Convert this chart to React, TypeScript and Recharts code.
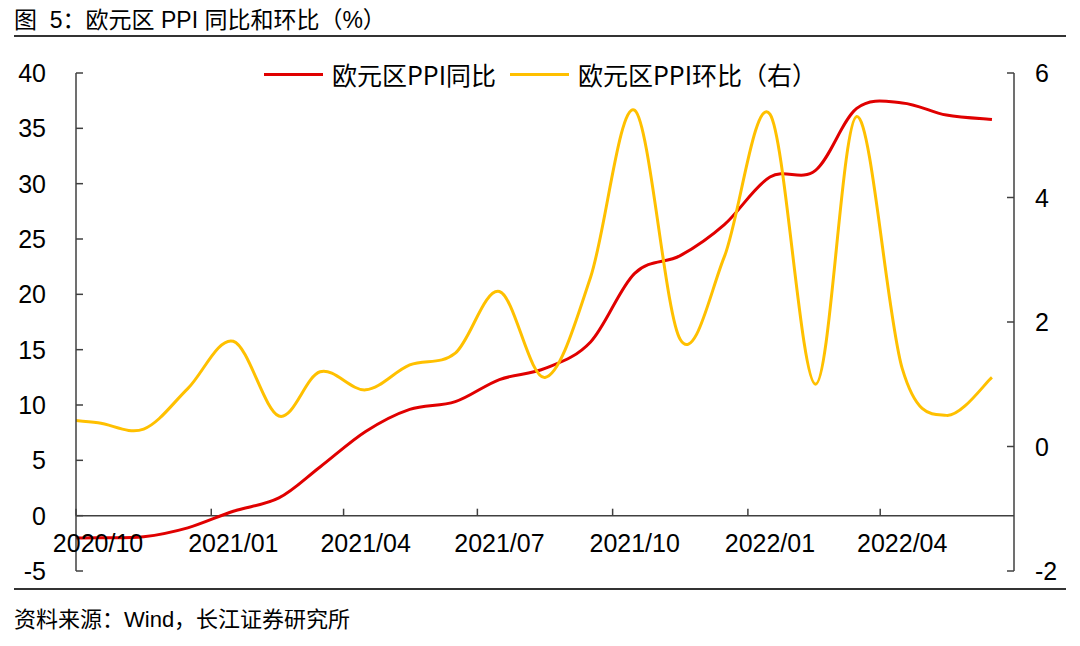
import React from 'react';
import { ComposedChart, Line, XAxis, YAxis, ReferenceLine, Legend } from 'recharts';

// ---- data ----
const MONTHS = [
  '2020/09', '2020/10', '2020/11', '2020/12',
  '2021/01', '2021/02', '2021/03', '2021/04', '2021/05', '2021/06',
  '2021/07', '2021/08', '2021/09', '2021/10', '2021/11', '2021/12',
  '2022/01', '2022/02', '2022/03', '2022/04', '2022/05', '2022/06',
];
const YOY = [
  -2.0, -2.0, -1.9, -1.1,
  0.4, 1.6, 4.4, 7.6, 9.6, 10.3,
  12.3, 13.3, 15.7, 21.9, 23.5, 26.3,
  30.6, 31.2, 36.8, 37.3, 36.2, 35.8,
];
const MOM = [
  0.45, 0.38, 0.28, 0.93,
  1.69, 0.49, 1.2, 0.91, 1.31, 1.5,
  2.49, 1.11, 2.72, 5.4, 1.72, 3.05,
  5.34, 1.0, 5.3, 1.25, 0.5, 1.11,
];
const X_TICK_LABELS = ['2020/10', '2021/01', '2021/04', '2021/07', '2021/10', '2022/01', '2022/04'];
const X_START = '2020/10';
const X_END = '2022/07';
const LEFT_TICKS = [-5, 0, 5, 10, 15, 20, 25, 30, 35, 40];
const RIGHT_TICKS = [-2, 0, 2, 4, 6];
const NAME_YOY = '欧元区PPI同比';
const NAME_MOM = '欧元区PPI环比（右）';
const TITLE = '图  5：欧元区 PPI 同比和环比（%）';
const SOURCE = '资料来源：Wind，长江证券研究所';

// ---- helpers ----
const toTime = (label: string, day: number) => {
  const [y, m] = label.split('/').map(Number);
  return Date.UTC(y, m - 1, day);
};
const data = MONTHS.map((m, i) => ({ t: toTime(m, 16), yoy: YOY[i], mom: MOM[i] }));
const X_TICKS = X_TICK_LABELS.map((l) => toTime(l, 1));
const X_LABEL_POS = X_TICK_LABELS.map((l) => toTime(l, 16));
const X_DOMAIN = [toTime(X_START, 1), toTime(X_END, 1)];

const AXIS = '#404040';
const RED = '#E00000';
const GOLD = '#FFC000';
const LATIN = '"Liberation Sans", Arial, "Noto Sans CJK SC", sans-serif';
const CJK = '"Noto Sans CJK SC", "Liberation Sans", sans-serif';

// Excel-like smoothed line (Catmull-Rom as cubic Bezier)
const excelSmooth: any = (context: any) => {
  let pts: number[][] = [];
  return {
    areaStart() {},
    areaEnd() {},
    lineStart() {
      pts = [];
    },
    lineEnd() {
      const n = pts.length;
      if (!n) return;
      context.moveTo(pts[0][0], pts[0][1]);
      for (let i = 0; i < n - 1; i++) {
        const p0 = pts[Math.max(i - 1, 0)];
        const p1 = pts[i];
        const p2 = pts[i + 1];
        const p3 = pts[Math.min(i + 2, n - 1)];
        context.bezierCurveTo(
          p1[0] + (p2[0] - p0[0]) / 6,
          p1[1] + (p2[1] - p0[1]) / 6,
          p2[0] - (p3[0] - p1[0]) / 6,
          p2[1] - (p3[1] - p1[1]) / 6,
          p2[0],
          p2[1]
        );
      }
    },
    point(x: number, y: number) {
      pts.push([+x, +y]);
    },
  };
};

const LeftTick = (props: any) => {
  const { x, y, payload } = props;
  return (
    <g>
      <line x1={x} x2={x + 7} y1={y} y2={y} stroke={AXIS} strokeWidth={1.5} />
      <text x={x - 30} y={y} dy="0.36em" textAnchor="end" fontSize={25} fill="#000" fontFamily={LATIN}>
        {payload.value}
      </text>
    </g>
  );
};

const RightTick = (props: any) => {
  const { x, y, payload } = props;
  return (
    <g>
      <line x1={x - 7} x2={x} y1={y} y2={y} stroke={AXIS} strokeWidth={1.5} />
      <text x={x + 21} y={y} dy="0.36em" textAnchor="start" fontSize={25} fill="#000" fontFamily={LATIN}>
        {payload.value}
      </text>
    </g>
  );
};

const renderLegend = (props: any) => {
  const { payload } = props;
  return (
    <div style={{ display: 'flex', alignItems: 'center', fontFamily: CJK, fontSize: 25, color: '#000', lineHeight: '30px', whiteSpace: 'nowrap' }}>
      {(payload || []).map((entry: any, i: number) => (
        <div key={i} style={{ display: 'flex', alignItems: 'center', marginRight: 14 }}>
          <div style={{ width: 59, height: 3, background: entry.color, marginRight: 9 }} />
          <span>{entry.value}</span>
        </div>
      ))}
    </div>
  );
};

export default function App() {
  return (
    <div style={{ position: 'absolute', left: 0, top: 0, width: 1080, height: 646, background: '#fff', overflow: 'hidden' }}>
      <div style={{ position: 'absolute', left: 14, top: 6, fontFamily: LATIN, fontSize: 23, lineHeight: '28px', color: '#000', whiteSpace: 'pre' }}>
        {TITLE}
      </div>
      <div style={{ position: 'absolute', left: 14, top: 35, width: 1052, height: 2, background: '#333' }} />
      <div style={{ position: 'absolute', left: 0, top: 0 }}>
        <ComposedChart width={1080} height={646} data={data} margin={{ top: 73, right: 0, bottom: 75, left: 0 }}>
          <XAxis dataKey="t" type="number" domain={X_DOMAIN} allowDataOverflow hide />
          <YAxis
            yAxisId="left"
            domain={[-5, 40]}
            ticks={LEFT_TICKS}
            interval={0}
            width={76}
            tickSize={0}
            tickMargin={0}
            tickLine={false}
            axisLine={{ stroke: AXIS, strokeWidth: 1.5 }}
            tick={<LeftTick />}
            allowDataOverflow
          />
          <YAxis
            yAxisId="right"
            orientation="right"
            domain={[-2, 6]}
            ticks={RIGHT_TICKS}
            interval={0}
            width={66}
            tickSize={0}
            tickMargin={0}
            tickLine={false}
            axisLine={{ stroke: AXIS, strokeWidth: 1.5 }}
            tick={<RightTick />}
            allowDataOverflow
          />
          <ReferenceLine yAxisId="left" y={0} stroke={AXIS} strokeWidth={1.5} />
          {X_TICKS.map((t) => (
            <ReferenceLine
              key={'tk' + t}
              yAxisId="left"
              segment={[{ x: t, y: 0 }, { x: t, y: 0.63 }]}
              stroke={AXIS}
              strokeWidth={1.5}
            />
          ))}
          {X_LABEL_POS.map((t, i) => (
            <ReferenceLine
              key={'lb' + t}
              yAxisId="left"
              segment={[{ x: t, y: 0 }, { x: t, y: 0.63 }]}
              stroke="none"
              label={{ value: X_TICK_LABELS[i], position: 'bottom', offset: 19, fontSize: 25, fill: '#000', fontFamily: LATIN }}
            />
          ))}
          <Line
            yAxisId="left"
            dataKey="yoy"
            name={NAME_YOY}
            stroke={RED}
            strokeWidth={3}
            dot={false}
            activeDot={false}
            type={excelSmooth}
            isAnimationActive={false}
          />
          <Line
            yAxisId="right"
            dataKey="mom"
            name={NAME_MOM}
            stroke={GOLD}
            strokeWidth={3}
            dot={false}
            activeDot={false}
            type={excelSmooth}
            isAnimationActive={false}
          />
          <Legend
            verticalAlign="middle"
            align="center"
            layout="horizontal"
            content={renderLegend}
            wrapperStyle={{ top: 59, left: 264, width: 640, height: 30 }}
          />
        </ComposedChart>
      </div>
      <div style={{ position: 'absolute', left: 14, top: 588, width: 1052, height: 2, background: '#333' }} />
      <div style={{ position: 'absolute', left: 14, top: 606, fontFamily: LATIN, fontSize: 22, lineHeight: '28px', color: '#000', whiteSpace: 'pre' }}>
        {SOURCE}
      </div>
    </div>
  );
}
